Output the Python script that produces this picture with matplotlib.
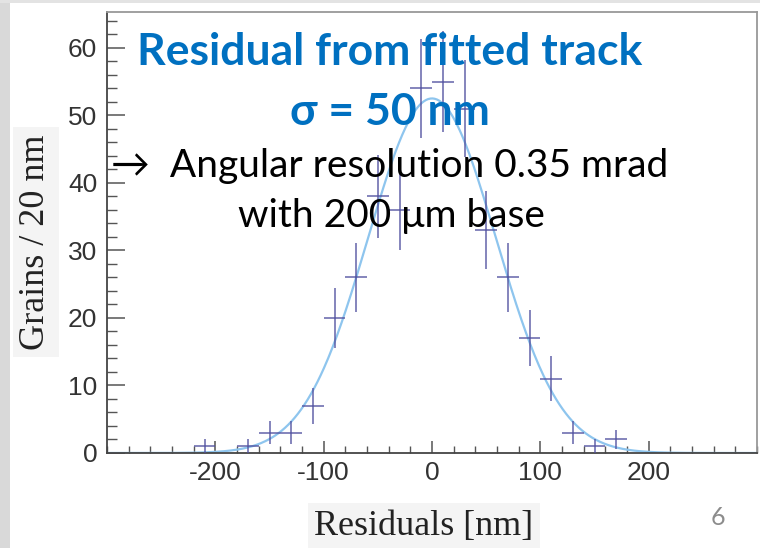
import numpy as np
import matplotlib
matplotlib.use('Agg')
import matplotlib.pyplot as plt
from matplotlib.patches import Rectangle
from matplotlib.ticker import MultipleLocator

# binned residuals (bin width 20 nm)
bin_centers = [-210, -170, -150, -130, -110, -90, -70, -50, -30, -10,
               10, 30, 50, 70, 90, 110, 130, 150, 170]
grains = [1, 1, 3, 3, 7, 20, 26, 38, 36, 54,
          55, 51, 33, 26, 17, 11, 3, 1, 2]
bin_width = 20

# gaussian fit drawn over the histogram
fit_amp = 52.5
fit_mean = 0.0
fit_sigma = 59.0

x_ticks = [-200, -100, 0, 100, 200]
y_ticks = [0, 10, 20, 30, 40, 50, 60]

W, H = 760, 548
plt.rcParams['axes.unicode_minus'] = False


def px(x, y):
    return x / W, 1 - y / H


fig = plt.figure(figsize=(W / 100, H / 100), dpi=100)
fig.patches.append(Rectangle((0, 0), 10 / W, 1, transform=fig.transFigure,
                             facecolor='#d9d9d9', edgecolor='none', zorder=-5))
fig.patches.append(Rectangle((0, 1 - 3 / H), 1, 3 / H, transform=fig.transFigure,
                             facecolor='#e3e3e3', edgecolor='none', zorder=-5))

l, b = px(107, 453)
r, t = px(757, 12)
ax = fig.add_axes([l, b, r - l, t - b])

yerr = np.sqrt(grains)
ax.errorbar(bin_centers, grains, xerr=bin_width / 2, yerr=yerr, fmt='none',
            ecolor='#4f4f9e', elinewidth=1.3, alpha=0.75, capsize=0, zorder=3)

xs = np.linspace(-300, 300, 600)
ax.plot(xs, fit_amp * np.exp(-0.5 * ((xs - fit_mean) / fit_sigma) ** 2),
        color='#8ec5ee', lw=1.6, zorder=2)

ax.set_xlim(-300, 300)
ax.set_ylim(0, 65.3)
ax.set_xticks(x_ticks)
ax.set_yticks(y_ticks)
ax.xaxis.set_minor_locator(MultipleLocator(20))
ax.yaxis.set_minor_locator(MultipleLocator(2))
ax.tick_params(axis='both', which='both', direction='in', color='#555555',
               labelcolor='#333333', labelsize=19)
ax.tick_params(axis='y', which='major', length=13, width=1.1, pad=7)
ax.tick_params(axis='y', which='minor', length=7, width=1.0)
ax.tick_params(axis='x', which='major', length=9, width=1.1, pad=6)
ax.tick_params(axis='x', which='minor', length=5, width=1.0)
for lab in ax.get_xticklabels() + ax.get_yticklabels():
    lab.set_fontfamily('Liberation Sans')
for side in ('left', 'bottom'):
    ax.spines[side].set_color('#444444')
    ax.spines[side].set_linewidth(1.3)
for side in ('top', 'right'):
    ax.spines[side].set_color('#999999')
    ax.spines[side].set_linewidth(1.3)

# axis titles (pasted images in the slide, grey backgrounds)
fig.text(*px(36, 242), 'Grains / 20 nm', rotation=90, ha='center', va='center',
         fontsize=26, family='Liberation Serif', color='#222222',
         bbox=dict(facecolor='#f4f4f4', edgecolor='none', pad=5))
fig.text(*px(424, 535), 'Residuals [nm]', ha='center', va='baseline',
         fontsize=26, family='Liberation Serif', color='#222222',
         bbox=dict(facecolor='#f4f4f4', edgecolor='none', pad=5))

# slide annotations
blue = '#0070c0'
fig.text(*px(390, 65), 'Residual from fitted track', ha='center', va='baseline',
         fontsize=32, fontweight='bold', family=['Lato', 'DejaVu Sans'], color=blue)
fig.text(*px(390, 125), '\u03c3 = 50 nm', ha='center', va='baseline',
         fontsize=32, fontweight='bold', family=['Lato', 'DejaVu Sans'], color=blue)
fig.text(*px(111, 177), '\u2192  Angular resolution 0.35 mrad', ha='left', va='baseline',
         fontsize=28, family=['Lato', 'DejaVu Sans'], color='black')
fig.text(*px(391, 227), 'with 200 \u03bcm base', ha='center', va='baseline',
         fontsize=28, family=['Lato', 'DejaVu Sans'], color='black')
fig.text(*px(718, 525), '6', ha='center', va='baseline',
         fontsize=18, family=['Lato', 'DejaVu Sans'], color='#8c8c8c')

fig.savefig('out.png', dpi=100)
